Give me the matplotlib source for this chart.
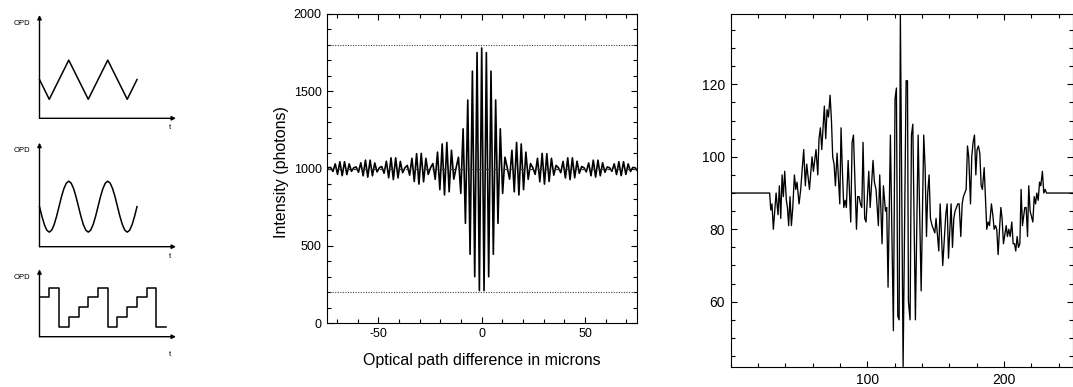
import numpy as np
import matplotlib
matplotlib.use("Agg")
import matplotlib.pyplot as plt
from matplotlib.patches import FancyArrowPatch
from matplotlib.ticker import MultipleLocator, FixedLocator

plt.rcParams['font.family'] = ['Liberation Sans', 'DejaVu Sans']
plt.rcParams['axes.unicode_minus'] = False

# ---------------- data ----------------
# schematic OPD modulations (t in half-periods, OPD in arbitrary units)
tri_t = [0.0, 0.5, 1.5, 2.5, 3.5, 4.5, 5.0]
tri_opd = [0.375, 0.184, 0.563, 0.184, 0.563, 0.184, 0.375]

sin_t = list(np.linspace(0.0, 5.0, 41))
sin_opd = [0.385, 0.291, 0.212, 0.159, 0.140, 0.159, 0.212, 0.291,
           0.385, 0.479, 0.558, 0.611, 0.630, 0.611, 0.558, 0.479,
           0.385, 0.291, 0.212, 0.159, 0.140, 0.159, 0.212, 0.291,
           0.385, 0.479, 0.558, 0.611, 0.630, 0.611, 0.558, 0.479,
           0.385, 0.291, 0.212, 0.159, 0.140, 0.159, 0.212, 0.291,
           0.385]

step_t = [0.0, 0.5, 1.0, 1.5, 2.0, 2.5, 3.0, 3.5, 4.0, 4.5, 5.0, 5.5, 6.0, 6.5]
step_opd = [0.382, 0.476, 0.094, 0.191, 0.288, 0.382, 0.476, 0.094,
            0.191, 0.288, 0.382, 0.476, 0.094, 0.094]

# interferogram: fringe extrema (photons), one every half fringe
fringe_step_um = 1.125
fringe_intensity = [
    984, 1005, 1007, 981, 1030, 962, 1044, 954, 1044, 961, 1030, 982, 1005, 1010,
    976, 1037, 953, 1054, 944, 1054, 953, 1036, 978, 1005, 1013, 969, 1047, 940,
    1069, 928, 1069, 939, 1046, 973, 1005, 1020, 957, 1066, 916, 1096, 899, 1098,
    914, 1066, 962, 1005, 1032, 930, 1106, 863, 1159, 829, 1169, 849, 1118, 931,
    1005, 1073, 839, 1257, 645, 1443, 445, 1630, 300, 1750, 210,
    1780,
    210, 1750, 300, 1630, 445, 1443, 645, 1257, 839, 1073, 1005, 931, 1118, 849,
    1169, 829, 1159, 863, 1106, 930, 1032, 1005, 962, 1066, 914, 1098, 899, 1096,
    916, 1066, 957, 1020, 1005, 973, 1046, 939, 1069, 928, 1069, 940, 1047, 969,
    1013, 1005, 978, 1036, 953, 1054, 944, 1054, 953, 1037, 976, 1010, 1005, 982,
    1030, 961, 1044, 954, 1044, 962, 1030, 981, 1007, 1005, 984]
reference_levels = [200, 1800]
mean_level = 1000

# measured fringe signal
sig_x = [0, 28.5, 29.3, 30.2, 31.2, 33.2, 34.6, 35.6, 36.6, 37.6, 38.5, 39.5, 40.7,
         41.5, 42.4, 43.4, 44.4, 45.4, 46.6, 47.6, 48.5, 50, 51.2, 53.4, 54.6, 55.6,
         57.6, 59.5, 60.5, 62.4, 63.7, 64.6, 65.6, 66.6, 68.5, 69.5, 70.5, 71.5, 72.7,
         73.7, 74.6, 75.6, 76.6, 77.8, 79.8, 80.7, 81.7, 82.7, 83.7, 84.6, 85.9, 87.8,
         88.8, 89.8, 91, 92, 92.9, 93.9, 94.9, 95.9, 96.8, 98, 99, 101, 102, 104.1,
         105.1, 106.3, 108, 109, 110.7, 111.7, 113.2, 114.1, 115.1, 116.8, 119, 120.2,
         121.2, 122.2, 123.2, 124.1, 126.1, 128.3, 129.3, 130, 131.2, 132.2, 133.2,
         135.1, 137.1, 139.3, 141.2, 142.2, 143.2, 144.1, 145.1, 146.1, 147.3, 148.3,
         149.3, 150.2, 152.2, 153.2, 155.1, 157.3, 158.3, 159.3, 161.2, 162.2, 163.2,
         164.1, 166.1, 167.1, 168.3, 169.3, 170.2, 172.2, 173.2, 174.1, 175.4, 176.3,
         177.3, 178.3, 179.3, 180.2, 181.2, 182.2, 183.2, 184.1, 185.4, 187.3, 188.3,
         189.3, 190.7, 191.7, 192.7, 193.7, 194.6, 195.6, 196.6, 197.6, 198.5, 199.5,
         201.5, 202.4, 203.4, 204.4, 205.6, 206.6, 207.6, 208.5, 209.5, 210.5, 211.5,
         212.4, 213.4, 215.1, 216.1, 217.1, 218, 219, 221, 222, 223, 223.9, 224.9,
         225.9, 226.8, 228, 229, 230, 231, 250]
sig_y = [90, 90, 85.3, 87, 80, 90, 84, 92, 83, 95, 89, 96, 88,
         86, 81, 89, 81, 86, 95, 91, 93, 87, 91, 102, 92, 98,
         91, 100, 96, 102, 95, 105, 108, 102, 114, 105, 113, 111, 117,
         110, 100, 98, 92, 101, 87, 108, 96, 86, 88, 86, 99, 82,
         104, 106, 92, 80, 89, 89, 87, 86, 104, 83, 82, 96, 86, 99,
         93, 91, 81, 95, 76, 92, 85, 86, 64, 106, 52, 116,
         119, 56, 55, 139.4, 42.1, 121, 121, 60, 55, 106, 109,
         55, 106, 63, 106, 97, 78, 90, 95, 83, 81, 80,
         79, 83, 74, 87, 70, 84, 87, 72, 87, 75, 83,
         85, 87, 87, 78, 87, 89, 91, 103, 100, 87, 100,
         104, 106, 95, 102, 103, 101, 92, 91, 97, 80, 82,
         81, 87, 84, 80, 81, 80, 73, 80, 86, 83, 76,
         81, 78, 80, 78, 82, 76, 76, 74, 78, 75, 76,
         91, 81, 86, 86, 78, 92, 85, 82, 89, 87, 90, 88,
         93, 92, 96, 90, 91, 90, 90]
sig_xticks = [100, 200]

# ---------------- figure ----------------
W, H = 1073, 387
fig = plt.figure(figsize=(W / 100, H / 100), dpi=100)


def px_axes(left, top, right, bottom):
    return fig.add_axes([left / W, 1 - bottom / H, (right - left) / W, (bottom - top) / H])


def schematic(top, bottom, t, opd, ylim_top, label_y, t_y, steps=False):
    ax = px_axes(39.5, top, 176, bottom)
    ax.set_xlim(0, 7)
    ax.set_ylim(0, ylim_top)
    ax.axis('off')
    for end in [(7, 0), (0, ylim_top)]:
        arr = FancyArrowPatch((0, 0), end, arrowstyle='-|>', mutation_scale=6,
                              lw=1.0, color='black', shrinkA=0, shrinkB=0,
                              clip_on=False)
        ax.add_patch(arr)
    if steps:
        ax.plot(t, opd, drawstyle='steps-post', color='black', lw=1.1, clip_on=False)
    else:
        ax.plot(t, opd, color='black', lw=1.1, clip_on=False)
    fig.text(21.7 / W, 1 - label_y / H, 'OPD', fontsize=5.5, ha='center', va='center')
    fig.text(170 / W, 1 - t_y / H, 't', fontsize=5.5, ha='center', va='center')


schematic(15, 118.3, tri_t, tri_opd, 1.0, 23.3, 127.7)
schematic(142.7, 246.7, sin_t, sin_opd, 1.0, 151, 256.7)
schematic(269.3, 336.7, step_t, step_opd, 0.654, 277.7, 354.3, steps=True)

# ---------------- interferogram ----------------
ax2 = px_axes(326.7, 14, 636.7, 323)
n_half = (len(fringe_intensity) - 1) // 2
opd = (np.arange(len(fringe_intensity)) - n_half) * fringe_step_um
ax2.plot(opd, fringe_intensity, color='black', lw=1.2)
for lvl in reference_levels:
    ax2.axhline(lvl, color='#444444', lw=0.8, linestyle=(0, (1, 1.3)))
ax2.axhline(mean_level, color='#333333', lw=0.9, linestyle=(0, (4, 3)))
ax2.set_xlim(-75, 75)
ax2.set_ylim(0, 2000)
ax2.xaxis.set_major_locator(MultipleLocator(50))
ax2.xaxis.set_minor_locator(MultipleLocator(10))
ax2.yaxis.set_major_locator(MultipleLocator(500))
ax2.yaxis.set_minor_locator(MultipleLocator(100))
ax2.tick_params(which='both', direction='in', top=True, right=True, labelsize=9,
                width=0.8, pad=3.6)
ax2.tick_params(which='major', length=4)
ax2.tick_params(which='minor', length=2.8)
for s in ax2.spines.values():
    s.set_linewidth(0.8)
fig.text(481.5 / W, 1 - 360.5 / H, 'Optical path difference in microns',
         fontsize=11.5, ha='center', va='center')
fig.text(281.7 / W, 1 - 171.7 / H, 'Intensity (photons)', fontsize=11.5,
         ha='center', va='center', rotation=90)

# ---------------- measured signal ----------------
ax3 = px_axes(730.7, 14, 1072.5, 366.7)
ax3.plot(sig_x, sig_y, color='black', lw=0.95)
ax3.set_xlim(0, 250)
ax3.set_ylim(42.06, 139.42)
ax3.xaxis.set_major_locator(FixedLocator(sig_xticks))
ax3.xaxis.set_minor_locator(MultipleLocator(20))
ax3.yaxis.set_major_locator(MultipleLocator(20))
ax3.yaxis.set_minor_locator(MultipleLocator(5))
ax3.tick_params(which='both', direction='in', top=True, right=True, labelsize=10,
                width=0.8)
ax3.tick_params(axis='x', pad=4.5)
ax3.tick_params(axis='y', pad=4.0)
ax3.tick_params(which='major', length=4)
ax3.tick_params(which='minor', length=2.8)
for s in ax3.spines.values():
    s.set_linewidth(0.8)

fig.savefig('out.png', dpi=100)
